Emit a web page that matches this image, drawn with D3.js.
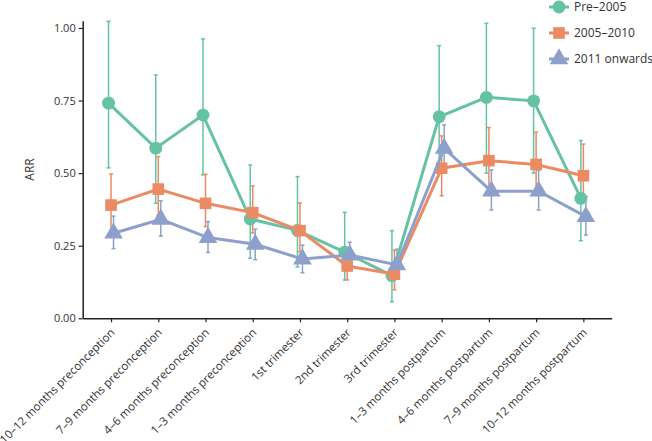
<!DOCTYPE html>
<html><head><meta charset="utf-8">
<script src="https://cdn.jsdelivr.net/npm/d3@7"></script>
<style>
body{margin:0;background:#fff;}
text{font-family:"Open Sans",sans-serif;}
</style></head>
<body><svg id="c" width="652" height="441"></svg>
<script>
const categories = ["10–12 months preconception","7–9 months preconception","4–6 months preconception","1–3 months preconception","1st trimester","2nd trimester","3rd trimester","1–3 months postpartum","4–6 months postpartum","7–9 months postpartum","10–12 months postpartum"];
const seriesNames = ["Pre–2005","2005–2010","2011 onwards"];
const pre2005 = [0.741,0.586,0.700,0.342,0.303,0.228,0.147,0.694,0.761,0.749,0.413];
const pre2005Lo = [0.518,0.396,0.494,0.207,0.177,0.132,0.057,0.50,0.50,0.50,0.267];
const pre2005Hi = [1.023,0.838,0.962,0.528,0.488,0.365,0.302,0.939,1.016,0.999,0.612];
const mid = [0.390,0.445,0.396,0.364,0.302,0.180,0.152,0.517,0.543,0.530,0.491];
const midLo = [0.300,0.356,0.316,0.294,0.229,0.132,0.098,0.422,0.44,0.43,0.40];
const midHi = [0.497,0.557,0.496,0.456,0.397,0.24,0.235,0.628,0.657,0.641,0.600];
const post2011 = [0.293,0.341,0.278,0.255,0.204,0.218,0.184,0.585,0.438,0.438,0.350];
const post2011Lo = [0.240,0.283,0.227,0.202,0.157,0.18,0.14,0.52,0.373,0.373,0.287];
const post2011Hi = [0.352,0.405,0.333,0.307,0.252,0.262,0.238,0.666,0.511,0.511,0.419];
const yTicks = [0,0.25,0.5,0.75,1.0];

const colors = ["#66c2a5","#ec8a63","#8da0cb"];
const shapes = [d3.symbolCircle,d3.symbolSquare,d3.symbolTriangle];
const symSizes = [130,135,150];
const dodge = [-2.5,0,2.5];
const series = [
  {name:seriesNames[0],v:pre2005,lo:pre2005Lo,hi:pre2005Hi},
  {name:seriesNames[1],v:mid,lo:midLo,hi:midHi},
  {name:seriesNames[2],v:post2011,lo:post2011Lo,hi:post2011Hi}
];

const svg = d3.select("#c");
const L=82.7, R=611.7, T=20.7, B=318.3;
const x = d3.scalePoint().domain(categories).range([L,R]).padding(0.6);
const y = d3.scaleLinear().domain([0,1.025]).range([B,T]);

const ya = svg.append("g").attr("transform",`translate(${L},0)`)
  .call(d3.axisLeft(y).tickValues(yTicks).tickFormat(d3.format(".2f")).tickSize(4).tickSizeOuter(0));
const xa = svg.append("g").attr("transform",`translate(0,${B})`)
  .call(d3.axisBottom(x).tickSize(4).tickSizeOuter(0));
[ya,xa].forEach(g=>{
  g.select(".domain").attr("stroke","#222").attr("stroke-width",1.5);
  g.selectAll(".tick line").attr("stroke","#222").attr("stroke-width",1.2);
  g.selectAll("text").attr("fill","#333").style("font-family","Open Sans").style("font-size","11px");
});
xa.selectAll(".tick text")
  .style("font-size","11.5px")
  .attr("text-anchor","end").attr("dy",0).attr("y",0)
  .attr("transform","translate(4,15) rotate(-45)");

svg.append("text").attr("transform",`translate(34,${(T+B)/2}) rotate(-90)`)
  .attr("text-anchor","middle").attr("fill","#333").style("font-size","12px").text("ARR");

series.forEach((s,k)=>{
  const g = svg.append("g");
  const c = colors[k];
  const px = i=>x(categories[i])+dodge[k];
  categories.forEach((cat,i)=>{
    g.append("line").attr("x1",px(i)).attr("x2",px(i)).attr("y1",y(s.lo[i])).attr("y2",y(s.hi[i]))
      .attr("stroke",c).attr("stroke-width",1.5);
    [s.lo[i],s.hi[i]].forEach(v=>g.append("line").attr("x1",px(i)-2).attr("x2",px(i)+2)
      .attr("y1",y(v)).attr("y2",y(v)).attr("stroke",c).attr("stroke-width",1.5));
  });
});
series.forEach((s,k)=>{
  const c = colors[k];
  const px = i=>x(categories[i])+dodge[k];
  svg.append("path").datum(s.v)
    .attr("d",d3.line().x((d,i)=>px(i)).y(d=>y(d)))
    .attr("fill","none").attr("stroke",c).attr("stroke-width",3);
  svg.append("g").selectAll("path").data(s.v).join("path")
    .attr("transform",(d,i)=>`translate(${px(i)},${y(d)})`)
    .attr("d",d3.symbol().type(shapes[k]).size(symSizes[k]))
    .attr("fill",c);
});

const legY=[7,33,59];
series.forEach((s,k)=>{
  const g = svg.append("g").attr("transform",`translate(0,${legY[k]})`);
  g.append("line").attr("x1",549).attr("x2",569).attr("stroke",colors[k]).attr("stroke-width",3);
  g.append("path").attr("transform","translate(559,0)")
    .attr("d",d3.symbol().type(shapes[k]).size(symSizes[k])).attr("fill",colors[k]);
  g.append("text").attr("x",574).attr("y",0).attr("dy","0.35em").attr("fill","#333")
    .style("font-size","12px").text(s.name);
});
</script></body></html>
